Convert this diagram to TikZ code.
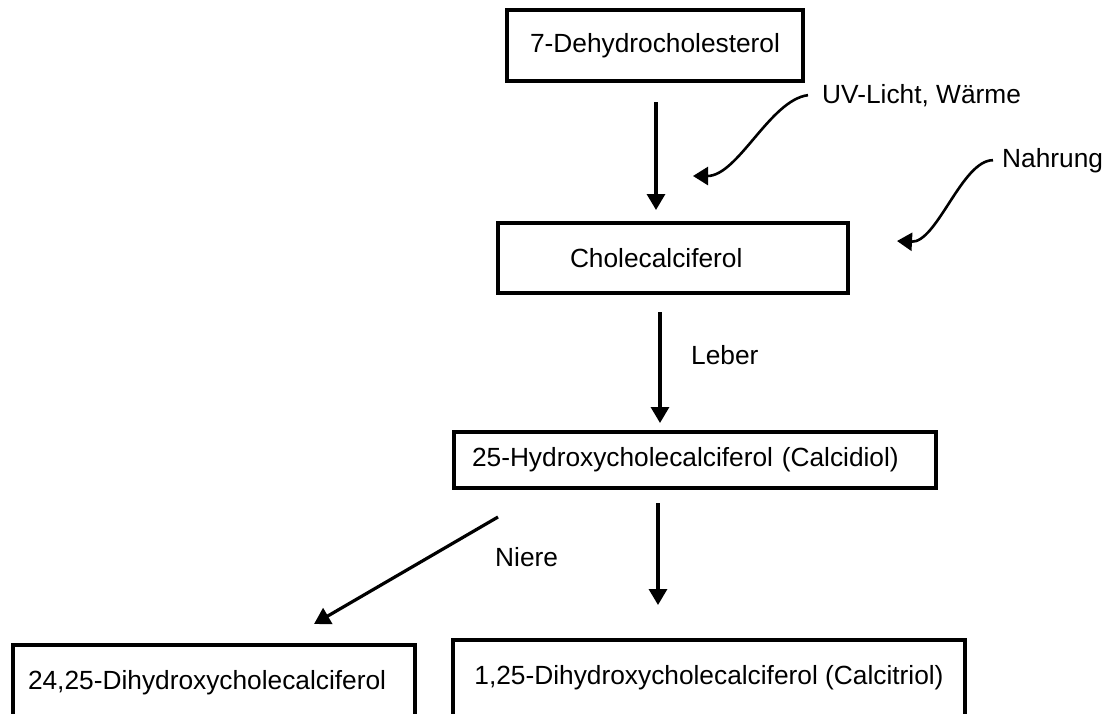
\documentclass[tikz,border=0pt]{standalone}
\usepackage{fontspec}
\setmainfont{Liberation Sans}
\usepackage{tikz}
\usetikzlibrary{arrows.meta, positioning}

\tikzset{
	stage/.style={draw, line width=3.3pt, inner ysep=0pt, align=left},
	note/.style={inner sep=0pt, anchor=base west},
	flow/.style={-{Triangle[length=16pt, width=18pt]}, line width=3.2pt},
	source/.style={-{Triangle[length=15pt, width=18pt]}, line width=2.6pt},
}

\begin{document}
\begin{tikzpicture}[x=1pt, y=-1pt, every node/.style={font=\fontsize{26.3}{31}\selectfont}]
				\useasboundingbox (0,0) rectangle (1103,713);
				\clip (0,0) rectangle (1103,713);
				%% boxes
				\node[stage, minimum width=296pt, minimum height=71pt, inner xsep=0pt] (dehydro) at (655,45.5) {7-Dehydrocholesterol};
				\node[stage, text width=206pt, inner xsep=72pt, minimum height=70pt] (chole) at (673,258) {Cholecalciferol};
				\node[stage, text width=446pt, inner xsep=18pt, minimum height=56pt] (calcidiol) at (695,460) {25-Hydroxycholecalciferol (Calcidiol)};
				\node[stage, text width=372pt, inner xsep=15pt, minimum height=76pt] (dihydroxy) at (214,683) {24,25-Dihydroxycholecalciferol};
				\node[stage, minimum width=512pt, minimum height=76pt, inner xsep=0pt] (calcitriol) at (709,678) {1,25-Dihydroxycholecalciferol (Calcitriol)};
				
				\node[note] (uv) at (822,103) {UV-Licht, Wärme};
				\node[note] (nahrung) at (1002,167) {Nahrung};
				\node[note] (leber) at (691,364) {Leber};
				\node[note] (niere) at (495,566) {Niere};
				
				\coordinate (dehydro out) at (656,102);
				\coordinate (chole in) at (656,210);
				\coordinate (chole out) at (660,312);
				\coordinate (calcidiol in) at (660,423);
				\coordinate (calcidiol out) at (658,503);
				\coordinate (calcitriol in) at (658,605);
				\coordinate (niere out) at (498,517);
				\coordinate (dihydroxy in) at (314,624);
				\coordinate (uv in) at (693,176);
				\coordinate (nahrung in) at (897,241);
				
				\draw[flow] (dehydro out) -- (chole in);
				\draw[flow] (chole out) -- (calcidiol in);
				\draw[flow] (calcidiol out) -- (calcitriol in);
				\draw[flow] (niere out) -- (dihydroxy in);
				\draw[source] ([xshift=-14pt]uv.west) .. controls (770,100) and (738,176) .. (uv in);
				\draw[source] ([xshift=-9pt]nahrung.west) .. controls (962,160) and (937,243) .. (nahrung in);
\end{tikzpicture}
\end{document}
